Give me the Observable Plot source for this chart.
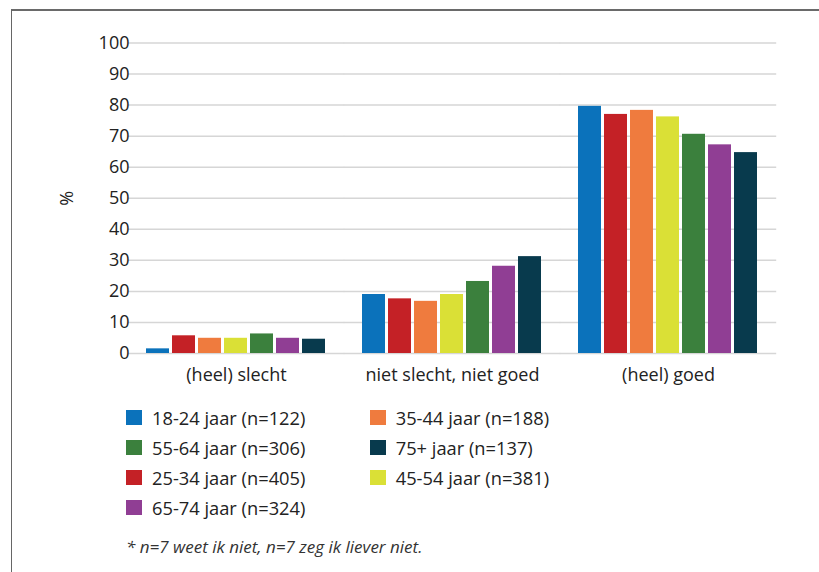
<!DOCTYPE html>
<html>
<head>
<meta charset="utf-8">
<script src="https://cdn.jsdelivr.net/npm/d3@7"></script>
<script src="https://cdn.jsdelivr.net/npm/@observablehq/plot@0.6"></script>
<style>
  html, body { margin: 0; padding: 0; background: #fff; }
  #wrap { position: relative; width: 819px; height: 572px; overflow: hidden; font-family: "Open Sans", sans-serif; color: #222; }
  #frame { position: absolute; left: 11px; top: 9px; right: -5px; bottom: -5px; border-left: 1.5px solid #666; border-top: 2px solid #6a6a6a; }
  #chart { position: absolute; left: 0; top: 0; }
  #legend { position: absolute; left: 126px; top: 402px; display: grid; grid-template-columns: 243.7px auto; grid-auto-rows: 30px; }
  .item { display: flex; align-items: center; font-size: 18.3px; white-space: nowrap; }
  .sw { width: 16px; height: 15px; margin-right: 10px; flex: none; }
  #note { position: absolute; left: 126px; top: 535px; font-size: 17px; font-style: italic; color: #333; white-space: nowrap; }
</style>
</head>
<body>
<div id="wrap">
  <div id="frame"></div>
  <div id="chart"></div>
  <div id="legend"></div>
  <div id="note"></div>
</div>
<script>
const categories = ["(heel) slecht", "niet slecht, niet goed", "(heel) goed"];
const ageGroups = ["18-24 jaar (n=122)", "25-34 jaar (n=405)", "35-44 jaar (n=188)", "45-54 jaar (n=381)", "55-64 jaar (n=306)", "65-74 jaar (n=324)", "75+ jaar (n=137)"];
const colors = ["#0b72bb", "#c42126", "#ef7b3e", "#dae036", "#3b803d", "#903e94", "#083a4d"];
const v18_24 = [1.5, 19.0, 79.6];
const v25_34 = [5.7, 17.6, 77.0];
const v35_44 = [4.9, 16.8, 78.3];
const v45_54 = [4.9, 19.0, 76.2];
const v55_64 = [6.3, 23.2, 70.6];
const v65_74 = [4.9, 28.1, 67.2];
const v75plus = [4.6, 31.2, 64.7];
const yTicks = [0, 10, 20, 30, 40, 50, 60, 70, 80, 90, 100];
const legendOrder = ["18-24 jaar (n=122)", "35-44 jaar (n=188)", "55-64 jaar (n=306)", "75+ jaar (n=137)", "25-34 jaar (n=405)", "45-54 jaar (n=381)", "65-74 jaar (n=324)"];
const footnote = "* n=7 weet ik niet, n=7 zeg ik liever niet.";
const yLabel = "%";

const series = [v18_24, v25_34, v35_44, v45_54, v55_64, v65_74, v75plus];
const data = [];
ageGroups.forEach((age, i) => {
  categories.forEach((cat, j) => data.push({category: cat, age, value: series[i][j]}));
});

const chart = Plot.plot({
  width: 819,
  height: 395,
  marginLeft: 127,
  marginRight: 42,
  marginTop: 42.5,
  marginBottom: 42,
  style: {fontFamily: "Open Sans, sans-serif", fontSize: "18px", color: "#222", background: "transparent"},
  fx: {domain: categories, paddingInner: 0.14, paddingOuter: 0.07, label: null},
  x: {domain: ageGroups, paddingInner: 0.1, paddingOuter: 0, axis: null},
  y: {domain: [0, 100], ticks: yTicks, label: yLabel},
  color: {domain: ageGroups, range: colors},
  marks: [
    Plot.ruleY(yTicks, {stroke: "#d6d6d6", strokeWidth: 1.5, insetLeft: -15.2, insetRight: -15.2}),
    Plot.barY(data, {fx: "category", x: "age", y: "value", fill: "age"}),
    Plot.axisY({ticks: yTicks, tickSize: 0, tickPadding: 14, label: yLabel, labelAnchor: "center", labelOffset: 83, labelArrow: "none"}),
    Plot.axisFx({anchor: "bottom", tickSize: 0, tickPadding: 15, label: null})
  ]
});
document.getElementById("chart").appendChild(chart);

const legend = document.getElementById("legend");
legendOrder.forEach(name => {
  const item = document.createElement("div");
  item.className = "item";
  const sw = document.createElement("span");
  sw.className = "sw";
  sw.style.background = colors[ageGroups.indexOf(name)];
  item.appendChild(sw);
  item.appendChild(document.createTextNode(name));
  legend.appendChild(item);
});
document.getElementById("note").textContent = footnote;
</script>
</body>
</html>
